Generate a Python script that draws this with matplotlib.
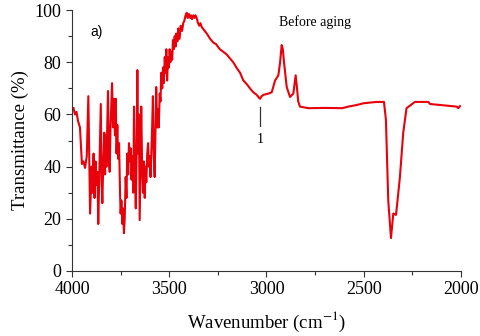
import matplotlib
matplotlib.use("Agg")
import matplotlib.pyplot as plt
from matplotlib.ticker import MultipleLocator

plt.rcParams["mathtext.fontset"] = "stix"

# FTIR spectrum (wavenumber cm-1, transmittance %)
wavenumber = [
    4000, 3992, 3985, 3977, 3969, 3959, 3954, 3949, 3941, 3933, 3924, 3916,
    3907, 3899, 3895, 3889, 3884, 3879, 3873, 3869, 3865, 3859, 3852, 3848,
    3844, 3839, 3834, 3830, 3827, 3823, 3815, 3810, 3806, 3802, 3794, 3789,
    3784, 3779, 3775, 3771, 3767, 3763, 3758, 3753, 3750, 3746, 3741, 3737,
    3733, 3729, 3724, 3720, 3716, 3711, 3707, 3702, 3698, 3694, 3690, 3685,
    3681, 3677, 3672, 3668, 3664, 3660, 3656, 3652, 3648, 3644, 3639, 3635,
    3631, 3626, 3622, 3618, 3613, 3609, 3605, 3601, 3596, 3592, 3588, 3584,
    3580, 3575, 3571, 3567, 3562, 3558, 3554, 3549, 3545, 3541, 3536, 3532,
    3528, 3523, 3519, 3515, 3511, 3506, 3502, 3498, 3494, 3490, 3485, 3481,
    3477, 3472, 3468, 3464, 3458, 3453, 3447, 3441, 3434, 3428, 3422, 3416,
    3410, 3405, 3399, 3393, 3388, 3383, 3376, 3370, 3365, 3359, 3352, 3346,
    3340, 3333, 3307, 3290, 3273, 3260, 3240, 3222, 3205, 3188, 3171, 3155,
    3136, 3119, 3100, 3085, 3068, 3050, 3040, 3033, 3025, 3016, 2990, 2973,
    2956, 2939, 2930, 2922, 2916, 2910, 2896, 2879, 2862, 2855, 2850, 2843,
    2837, 2828, 2785, 2700, 2610, 2580, 2537, 2500, 2433, 2396, 2386, 2374,
    2360, 2348, 2334, 2314, 2297, 2280, 2237, 2168, 2159, 2022, 2014, 2005,
]
transmittance = [
    62, 62.5, 60, 61, 57.5, 55, 48, 41, 42, 39.5, 44, 67,
    22, 40, 30, 45, 28, 42, 33, 38, 18, 40, 64, 35,
    26, 42, 53, 37, 52, 40, 69, 42, 38, 55, 72, 55,
    66, 52, 66, 45, 56, 43, 49, 30, 22, 27, 18, 24,
    14.5, 20, 36, 28, 45, 37, 49, 42, 47, 35, 44, 30,
    63, 40, 24, 45, 77, 45, 60, 19.5, 40, 63, 38, 30,
    42, 28, 40, 34, 45, 49, 40, 44, 36, 45, 55, 67,
    45, 36, 53, 70.5, 55, 62, 55, 68, 65, 76, 70, 78,
    72, 82, 76, 85, 73, 82, 78, 85, 80, 84, 81, 88.5,
    85, 90, 86, 91, 88, 93, 89, 94, 92, 95, 96, 98,
    99, 97, 98.5, 97, 98, 96.5, 98, 97, 98, 97, 95, 94,
    95, 93.5, 91, 89, 87.5, 87, 85, 84, 83, 81.5, 80, 78,
    76, 73, 71.5, 70, 68.5, 67.5, 66.5, 66, 67, 67.5, 68, 68.5,
    73, 75, 80, 86.6, 85, 80, 70.5, 66.7, 68, 72, 75, 70,
    65, 63, 62.4, 62.5, 62.4, 63, 63.6, 64.3, 64.8, 64.8, 58, 27,
    12.6, 22, 21.5, 36, 53, 62.4, 64.8, 64.8, 64, 63, 62.4, 63.2,
]

serif = "Liberation Serif"

fig = plt.figure(figsize=(4.8, 3.36), dpi=100)
ax = fig.add_axes([0.15, 0.1935, 0.8104, 0.7765])
ax.plot(wavenumber, transmittance, color="#e8000b", lw=1.5)

ax.set_xlim(4000, 2000)
ax.set_ylim(0, 100)
ax.xaxis.set_major_locator(MultipleLocator(500))
ax.xaxis.set_minor_locator(MultipleLocator(250))
ax.yaxis.set_major_locator(MultipleLocator(20))
ax.yaxis.set_minor_locator(MultipleLocator(10))
ax.tick_params(which="major", direction="out", length=4, width=0.8,
               labelsize=13, color="#333333")
ax.tick_params(which="minor", direction="out", length=3, width=0.8, color="#333333")
for lab in ax.get_xticklabels() + ax.get_yticklabels():
    lab.set_fontfamily(serif)
for side in ("top", "right"):
    ax.spines[side].set_visible(False)
for side in ("left", "bottom"):
    ax.spines[side].set_color("#333333")

ax.set_xlabel("Wavenumber (cm$^{-1}$)", fontfamily=serif, fontsize=13.5, labelpad=8)
ax.set_ylabel("Transmittance (%)", fontfamily=serif, fontsize=13.5, labelpad=4)

ax.text(3873, 91.7, "a)", fontfamily="Liberation Sans", fontsize=10,
        ha="center", va="center")
ax.text(2751, 95.5, "Before aging", fontfamily=serif, fontsize=10,
        ha="center", va="center")
ax.plot([3033, 3033], [63, 55.6], color="#333333", lw=0.9)
ax.text(3033, 50.5, "1", fontfamily=serif, fontsize=10, ha="center", va="center")

fig.savefig("out.png", dpi=100)
